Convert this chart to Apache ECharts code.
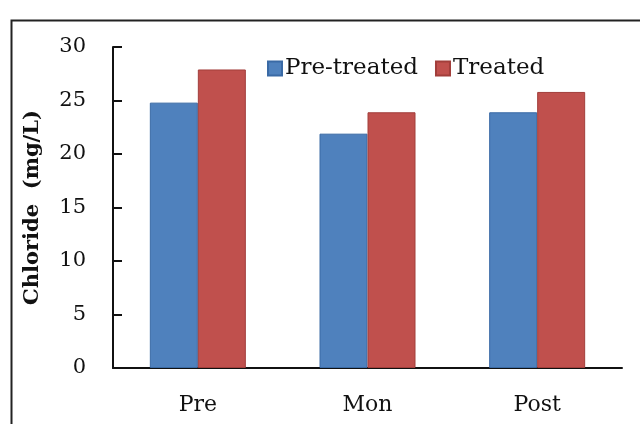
<!DOCTYPE html>
<html>
<head>
<meta charset="utf-8">
<script src="https://cdn.jsdelivr.net/npm/echarts@6/dist/echarts.min.js"></script>
<style>html,body{margin:0;padding:0;background:#fff}#c{width:640px;height:424px}</style>
</head>
<body>
<div id="c"></div>
<script>
const categories = ['Pre', 'Mon', 'Post'];
const preTreated = [24.8, 21.9, 23.9];
const treated = [27.9, 23.9, 25.8];
const seriesNames = ['Pre-treated', 'Treated'];
const yTitle = 'Chloride  (mg/L)';

const chart = echarts.init(document.getElementById('c'), null, {renderer: 'canvas'});
const serif = '"DejaVu Serif", "Liberation Serif", serif';
chart.setOption({
  animation: false,
  backgroundColor: '#fff',
  graphic: [{
    type: 'rect', left: 9, top: 18,
    shape: {width: 700, height: 500},
    style: {fill: 'none', stroke: '#222', lineWidth: 2}, silent: true
  }],
  legend: {
    data: seriesNames, left: 262, top: 52, itemWidth: 14, itemHeight: 14, itemGap: 17,
    icon: 'rect',
    textStyle: {fontFamily: serif, fontSize: 23, color: '#111', padding: [0, 0, 0, -2]}
  },
  grid: {left: 113, right: 18, top: 47, bottom: 56, containLabel: false},
  xAxis: {
    type: 'category', data: categories,
    axisLine: {lineStyle: {color: '#111', width: 2}},
    axisTick: {inside: true, length: 8, lineStyle: {color: '#111', width: 2}},
    axisLabel: {fontFamily: serif, fontSize: 22, color: '#111', margin: 26}
  },
  yAxis: {
    type: 'value', min: 0, max: 30, interval: 5,
    name: yTitle, nameLocation: 'middle', nameGap: 70,
    nameTextStyle: {fontFamily: serif, fontSize: 21, fontWeight: 'bold', color: '#111'},
    axisLine: {show: true, lineStyle: {color: '#111', width: 2}},
    axisTick: {show: true, inside: true, length: 9, lineStyle: {color: '#111', width: 2}},
    axisLabel: {fontFamily: serif, fontSize: 21, color: '#111', margin: 27},
    splitLine: {show: false}
  },
  series: [
    {name: seriesNames[0], type: 'bar', data: preTreated, barWidth: 48, barGap: '0%',
     itemStyle: {color: '#4F81BD', borderColor: '#3a6aa5', borderWidth: 1}},
    {name: seriesNames[1], type: 'bar', data: treated, barWidth: 48,
     itemStyle: {color: '#C0504D', borderColor: '#a23e3b', borderWidth: 1}}
  ]
});
</script>
</body>
</html>
